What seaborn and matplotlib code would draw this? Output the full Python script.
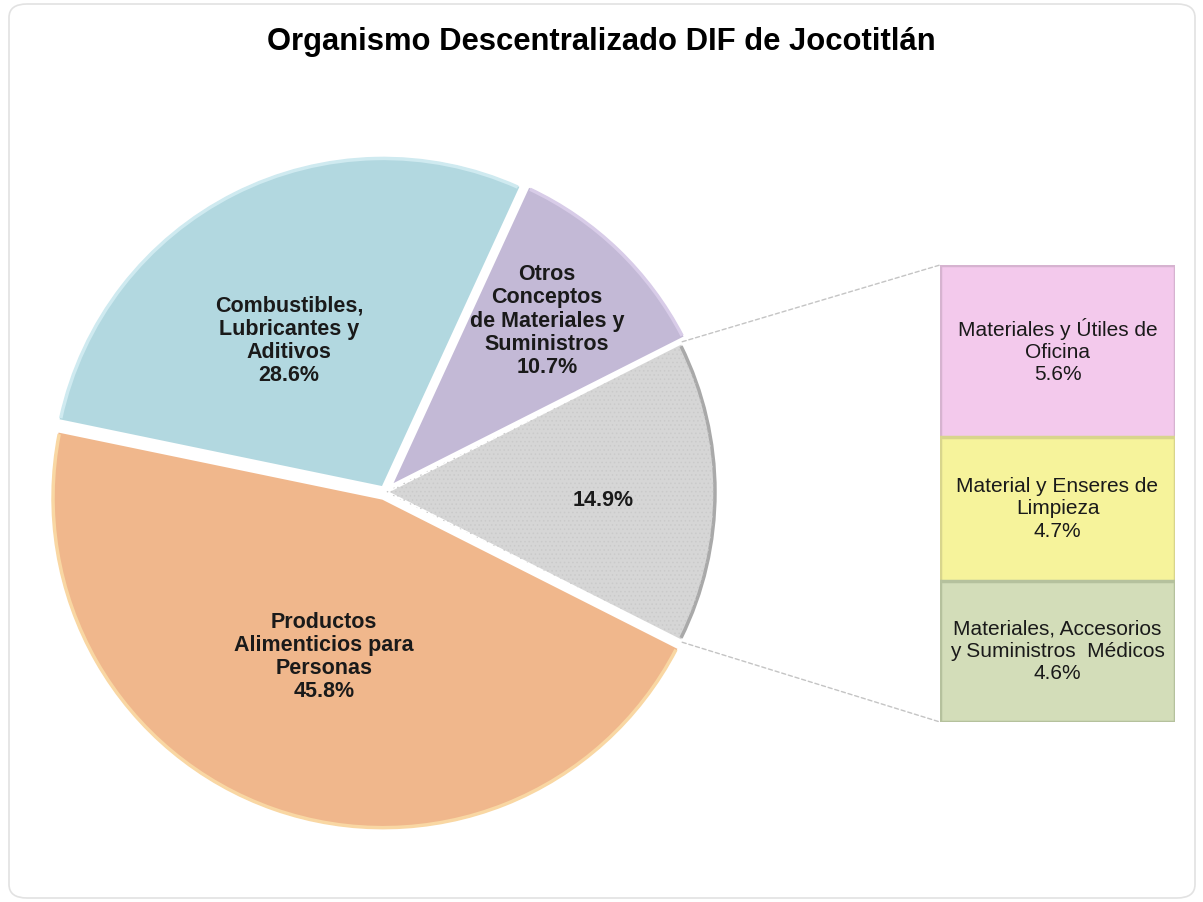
import matplotlib
matplotlib.use("Agg")
import matplotlib.pyplot as plt
import seaborn as sns
from matplotlib.patches import FancyBboxPatch, ConnectionPatch, Wedge, Arc
import numpy as np

# pie values (counter-clockwise, starting with the "other" slice)
pie_labels = ["", "Otros\nConceptos\nde Materiales y\nSuministros",
              "Combustibles,\nLubricantes y\nAditivos",
              "Productos\nAlimenticios para\nPersonas"]
pie_values = [14.9, 10.7, 28.6, 45.8]
pie_colors = ["#D6D6D6", "#C3B9D6", "#B2D8E0", "#F0B78C"]
pie_rims = ["#A9A9A9", "#D8CCE8", "#CFEAF0", "#F9D7A3"]

# breakdown of the grey slice (top to bottom)
bar_labels = ["Materiales y Útiles de\nOficina",
              "Material y Enseres de\nLimpieza",
              "Materiales, Accesorios\ny Suministros  Médicos"]
bar_values = [5.6, 4.7, 4.6]
bar_colors = ["#F3C9EC", "#F6F39B", "#D3DDB9"]
bar_edges = ["#D6B3D0", "#D8D58C", "#B5C19D"]

title = "Organismo Descentralizado DIF de Jocotitlán"

sns.set_theme(style="white")
plt.rcParams["font.family"] = ["Liberation Sans", "DejaVu Sans"]
plt.rcParams["hatch.linewidth"] = 0.6

W, H = 1203, 902
fig = plt.figure(figsize=(W / 100, H / 100), dpi=100)
fig.patch.set_facecolor("white")

# rounded frame
frame = FancyBboxPatch((9 / W, 4 / H), 1186 / W, 894 / H,
                       boxstyle="round,pad=0,rounding_size=0.015",
                       transform=fig.transFigure, facecolor="none",
                       edgecolor="#E2E2E2", linewidth=1.2, zorder=-1)
fig.patches.append(frame)

fig.text(0.5, 1 - 42 / H, title, ha="center", va="center",
         fontsize=22.3, fontweight="bold", color="black")

# pie axes in pixel units
ax = fig.add_axes([0, 0, 1, 1])
ax.patch.set_alpha(0)

cx, cy, r = 385, H - 492, 333
start = -pie_values[0] / 100 * 360 / 2
wedges, _ = ax.pie(pie_values, colors=pie_colors, startangle=start,
                   counterclock=True, radius=r, center=(cx, cy),
                   explode=[0, 6, 4, 6], frame=True,
                   wedgeprops=dict(edgecolor="white", linewidth=3))
ax.set_xlim(0, W)
ax.set_ylim(0, H)
ax.set_aspect("equal")
ax.axis("off")

# soft rim on the outer arc of each slice
for w, rim in zip(wedges, pie_rims):
    ax.add_patch(Arc(w.center, 2 * (w.r - 3), 2 * (w.r - 3),
                     theta1=w.theta1 + 0.6, theta2=w.theta2 - 0.6,
                     color=rim, linewidth=2.5))

# dotted texture on the grey slice
g = wedges[0]
tex = Wedge(g.center, g.r - 4, g.theta1 + 0.5, g.theta2 - 0.5,
            facecolor="none", edgecolor="#CACACA", linewidth=0,
            hatch="....")
ax.add_patch(tex)

# slice labels (pixel positions)
label_pos = [(603, 500), (547, 321), (289, 341), (324, 657)]
for lab, val, (px, py) in zip(pie_labels, pie_values, label_pos):
    txt = f"{lab}\n{val:.1f}%" if lab else f"{val:.1f}%"
    ax.text(px, H - py, txt, ha="center", va="center", fontsize=15.5,
            fontweight="bold", color="#1a1a1a", linespacing=1.14)

# stacked bar for the grey slice
bx = fig.add_axes([940 / W, (H - 722) / H, 235 / W, 457 / H])
cum = np.cumsum(bar_values[::-1])[::-1]  # top segment first
for total, col, ec in zip(cum, bar_colors, bar_edges):
    sns.barplot(x=[0], y=[total], color=col, width=1, ax=bx,
                edgecolor=ec, linewidth=2.5, saturation=1)
bx.set_xlim(-0.5, 0.5)
bx.set_ylim(0, cum[0])
bx.axis("off")

for lab, val, top in zip(bar_labels, bar_values, cum):
    bx.text(0, top - val / 2, f"{lab}\n{val:.1f}%", ha="center",
            va="center", fontsize=15, color="#1a1a1a", linespacing=1.22)

# connector lines from grey slice to the bar
th1, th2 = np.deg2rad(g.theta1), np.deg2rad(g.theta2)
p_top = (g.center[0] + g.r * np.cos(th2), g.center[1] + g.r * np.sin(th2))
p_bot = (g.center[0] + g.r * np.cos(th1), g.center[1] + g.r * np.sin(th1))
for pa, pb in [(p_top, (-0.5, cum[0])), (p_bot, (-0.5, 0))]:
    con = ConnectionPatch(xyA=pa, coordsA=ax.transData, xyB=pb,
                          coordsB=bx.transData, color="#C4C4C4",
                          linewidth=1, linestyle=(0, (3, 2)))
    fig.add_artist(con)

fig.savefig("out.png", dpi=100, facecolor="white")
